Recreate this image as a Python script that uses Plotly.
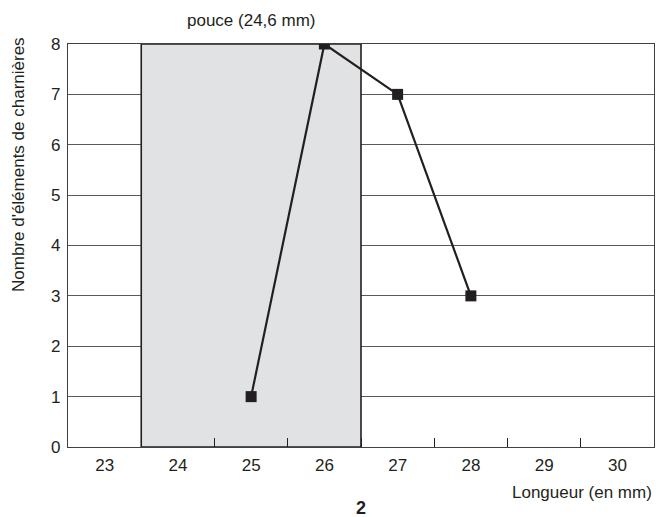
import plotly.graph_objects as go

# categories on the x axis (length in mm)
lengths = ["23", "24", "25", "26", "27", "28", "29", "30"]

# measured series
x_vals = ["25", "26", "27", "28"]
counts = [1, 8, 7, 3]

# shaded band (thumb width) spans these categories
band = ["24", "26"]
band_label = "pouce (24,6 mm)"

ink = "#231f20"
grid = "#58595b"
shade = "#e1e2e4"
font_family = "Liberation Sans, Arial, sans-serif"

fig = go.Figure()

fig.add_trace(go.Scatter(
    x=x_vals, y=counts,
    mode="lines+markers",
    line=dict(color=ink, width=2.2),
    marker=dict(symbol="square", size=11, color=ink),
    showlegend=False,
    hoverinfo="x+y",
))

# band between category boundaries
b0 = lengths.index(band[0]) - 0.5
b1 = lengths.index(band[1]) + 0.5
fig.add_shape(type="rect", xref="x", yref="y",
              x0=b0, x1=b1, y0=0, y1=8,
              fillcolor=shade, line=dict(color=ink, width=1.6),
              layer="between")

fig.update_xaxes(
    type="category",
    categoryorder="array", categoryarray=lengths,
    range=[-0.5, len(lengths) - 0.5],
    tickson="boundaries",
    ticks="inside", ticklen=9, tickwidth=1.2, tickcolor=ink,
    ticklabelstandoff=2,
    showgrid=False,
    showline=True, linecolor="#414042", linewidth=1.4, mirror=True,
    tickfont=dict(size=17, color=ink, family=font_family),
)

fig.update_yaxes(
    range=[0, 8], dtick=1,
    showgrid=True, gridcolor=grid, gridwidth=1,
    showline=True, linecolor="#414042", linewidth=1.4, mirror=True,
    ticks="", ticklabelstandoff=3,
    zeroline=False,
    tickfont=dict(size=17, color=ink, family=font_family),
)

fig.add_annotation(text=band_label, x=(b0 + b1) / 2, xref="x",
                   y=1 + 24 / 403, yref="paper", yanchor="middle",
                   showarrow=False, font=dict(size=17, color=ink, family=font_family))

fig.add_annotation(text="Longueur (en mm)", x=1, xref="paper", xanchor="right",
                   y=-45 / 403, yref="paper", yanchor="middle",
                   showarrow=False, font=dict(size=17, color=ink, family=font_family))

fig.add_annotation(text="<b>2</b>", x=0.5, xref="paper",
                   y=-61 / 403, yref="paper", yanchor="middle",
                   showarrow=False, font=dict(size=18, color=ink, family=font_family))

fig.add_annotation(text="Nombre d'éléments de charnières",
                   x=(19 - 68) / 586, xref="paper", xanchor="center",
                   y=(447 - 165) / 403, yref="paper", yanchor="middle",
                   textangle=-90, showarrow=False,
                   font=dict(size=17, color=ink, family=font_family))

# page body adds an 8px offset, so the figure is 8px smaller on each side
fig.update_layout(
    width=655, height=509,
    margin=dict(l=60, r=9, t=36, b=70),
    plot_bgcolor="white", paper_bgcolor="white",
    font=dict(family=font_family, color=ink),
)

fig.write_html("out.html")
